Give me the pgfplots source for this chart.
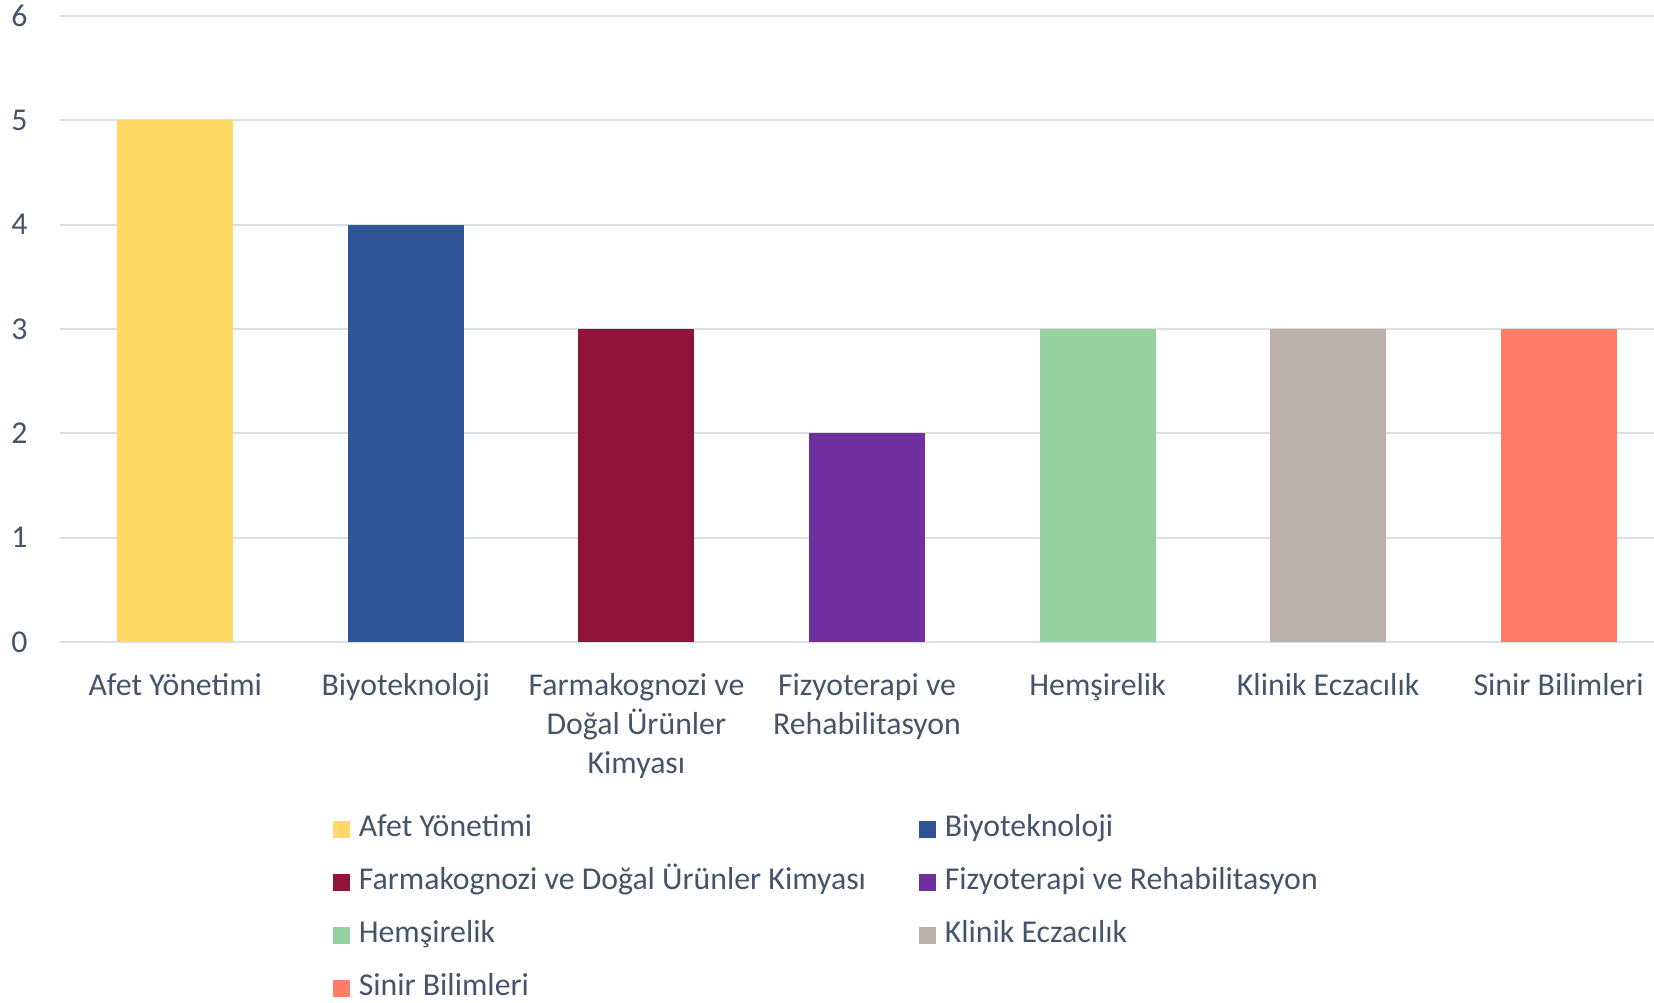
\documentclass[border=0pt]{standalone}
\usepackage{fontspec}
\setmainfont{Carlito}
\usepackage{pgfplots}
\pgfplotsset{compat=1.18}

\definecolor{textc}{HTML}{44546A}
\definecolor{gridc}{HTML}{D9DEE7}
\definecolor{cafet}{HTML}{FFD966}
\definecolor{cbiyo}{HTML}{2F5597}
\definecolor{cfarm}{HTML}{90143A}
\definecolor{cfizy}{HTML}{7030A0}
\definecolor{chems}{HTML}{96D1A1}
\definecolor{cklin}{HTML}{BAB0A9}
\definecolor{csini}{HTML}{FF7C66}

\begin{document}
\begin{tikzpicture}[font=\fontsize{15.9}{19.5}\selectfont]
  \begin{axis}[
    at={(30pt,180pt)}, anchor=south west,
    scale only axis, width=807pt, height=313pt,
    xmin=-0.5, xmax=6.5, ymin=0, ymax=6,
    ytick={0,1,2,3,4,5,6},
    xtick={0,1,2,3,4,5,6},
    xticklabels={Afet Yönetimi, Biyoteknoloji, {Farmakognozi ve\\Doğal Ürünler\\Kimyası}, {Fizyoterapi ve\\Rehabilitasyon}, Hemşirelik, Klinik Eczacılık, Sinir Bilimleri},
    axis line style={draw=none},
    major tick length=0pt,
    ymajorgrids, grid style={line width=1pt, draw=gridc},
    /pgf/number format/assume math mode=true,
    yticklabel style={text=textc, inner sep=0pt, anchor=east, xshift=-16pt},
    xticklabel style={text=textc, inner sep=0pt, anchor=north, align=center, yshift=-15.5pt},
    ybar, bar width=58pt, bar shift=0pt,
    every axis plot/.append style={draw=none},
    legend columns=2,
    legend image code/.code={\fill[#1] (0pt,-4.25pt) rectangle (8.5pt,4.25pt);},
    legend style={at={(0.169,-0.275)}, anchor=north west, draw=none, inner sep=0pt, outer sep=0pt,
      text=textc, row sep=11.5pt,
      nodes={inner sep=0pt, anchor=west, align=flush left, text width=280pt, text height=11pt, text depth=4pt},
      /tikz/every odd column/.append style={column sep=4.5pt}},
  ]
    \addplot[fill=cafet] coordinates {(0,5)};
    \addlegendentry{Afet Yönetimi}
    \addplot[fill=cbiyo] coordinates {(1,4)};
    \addlegendentry{Biyoteknoloji}
    \addplot[fill=cfarm] coordinates {(2,3)};
    \addlegendentry{Farmakognozi ve Doğal Ürünler Kimyası}
    \addplot[fill=cfizy] coordinates {(3,2)};
    \addlegendentry{Fizyoterapi ve Rehabilitasyon}
    \addplot[fill=chems] coordinates {(4,3)};
    \addlegendentry{Hemşirelik}
    \addplot[fill=cklin] coordinates {(5,3)};
    \addlegendentry{Klinik Eczacılık}
    \addplot[fill=csini] coordinates {(6,3)};
    \addlegendentry{Sinir Bilimleri}
  \end{axis}
  \pgfresetboundingbox
  \path (0,0) rectangle (827pt,501pt);
\end{tikzpicture}
\end{document}
